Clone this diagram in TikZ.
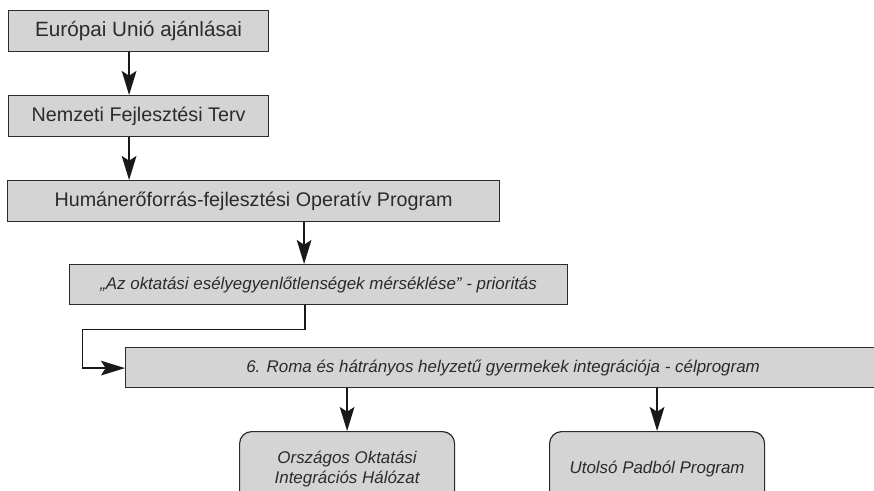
\documentclass[tikz,border=0pt]{standalone}
\usepackage{fontspec}
\setmainfont{Liberation Sans}
\usepackage{tikz}
\usetikzlibrary{arrows.meta,positioning}
\definecolor{boxgray}{HTML}{D4D4D4}
\definecolor{ink}{HTML}{2B2B2B}
\tikzstyle{process} = [rectangle, anchor=north west, inner sep=0pt, minimum height=30.75pt, text centered, draw=ink, line width=0.9pt, fill=boxgray, text=ink]
\tikzstyle{priority} = [process, minimum height=30pt, font=\itshape\fontsize{12.7}{15}\selectfont]
\tikzstyle{program} = [process, rounded corners=9pt, minimum height=56pt, align=center, font=\itshape\fontsize{12.7}{15}\selectfont]
\tikzstyle{arrow} = [draw=black!90, line width=1.1pt, -{Stealth[length=18pt,width=11pt,inset=3.5pt]}]

\begin{document}
\begin{tikzpicture}[x=0.75pt,y=-0.75pt]
\useasboundingbox (0,0) rectangle (874,490);
\clip (0,0) rectangle (874,490);
\node[process,minimum width=195pt,font=\fontsize{15.5}{19}\selectfont] (eu) at (8,10) 
          {Európai Unió ajánlásai};
\node[process,minimum width=195pt,font=\fontsize{14.8}{18}\selectfont] (nft) at (eu.north west) [yshift=-63.75pt] 
          {Nemzeti Fejlesztési Terv};
\node[process,minimum width=369pt,font=\fontsize{14.8}{18}\selectfont] (hefop) at (nft.north west) [xshift=-0.75pt,yshift=-63.75pt] 
          {Humánerőforrás-fejlesztési Operatív Program};
\node[priority,minimum width=373.5pt] (prior) at (hefop.north west) [xshift=46.5pt,yshift=-63pt] 
          {„Az oktatási esélyegyenlőtlenségek mérséklése” - prioritás};
\node[priority,minimum width=566.25pt] (celprog) at (prior.north west) [xshift=42pt,yshift=-62.25pt] 
          {6. Roma és hátrányos helyzetű gyermekek integrációja - célprogram};
\node[program,minimum width=161.25pt] (oih) at (celprog.north west) [xshift=85.5pt,yshift=-63pt] 
          {Országos Oktatási\\Integrációs Hálózat};
\node[program,minimum width=161.25pt] (upp) at (oih.north west) [xshift=232.5pt] 
          {Utolsó Padból Program};
\draw[arrow] ([xshift=-7.125pt]eu.south) -- ([xshift=-7.125pt]nft.north);
\draw[arrow] ([xshift=-7.125pt]nft.south) -- ([xshift=-7.125pt]nft.south |- hefop.north);
\draw[arrow] ([xshift=37.875pt]hefop.south) -- ([xshift=37.875pt]hefop.south |- prior.north);
\draw[arrow] ([xshift=-10.125pt]prior.south) -- ++(0,-18.375pt) 
                        -| ([xshift=-31.875pt,yshift=-0.375pt]celprog.west) 
                        -- ([yshift=-0.375pt]celprog.west);
\draw[arrow] (oih.north |- celprog.south) -- (oih.north);
\draw[arrow] (upp.north |- celprog.south) -- (upp.north);
\end{tikzpicture}
\end{document}
